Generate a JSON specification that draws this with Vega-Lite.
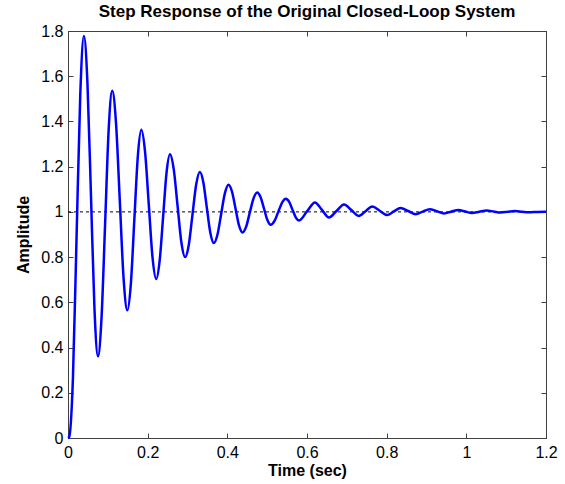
{
  "$schema": "https://vega.github.io/schema/vega-lite/v6.json",
  "autosize": {"type": "none"},
  "width": 478,
  "height": 407,
  "padding": {"left": 68, "top": 31, "right": 19, "bottom": 46},
  "background": "white",
  "title": {"text": "Step Response of the Original Closed-Loop System", "font": "Liberation Sans", "fontSize": 17, "fontWeight": "bold", "color": "black", "anchor": "middle", "offset": 2},
  "config": {
    "view": {"stroke": "#404040", "strokeWidth": 1},
    "axis": {"grid": false, "domainColor": "#404040", "tickColor": "#404040", "labelColor": "black", "titleColor": "black", "labelFont": "Liberation Sans", "labelFontSize": 16, "titleFont": "Liberation Sans", "titleFontSize": 16, "titleFontWeight": "bold", "tickSize": -5, "labelFlush": false, "labelOverlap": false}
  },
  "datasets": {
    "resp": [
      {"t": 0, "y": 0}, {"t": 0.003, "y": 0.005}, {"t": 0.0123, "y": 0.26}, {"t": 0.0215, "y": 0.889}, {"t": 0.0308, "y": 1.518},
      {"t": 0.04, "y": 1.778}, {"t": 0.0488, "y": 1.571}, {"t": 0.0577, "y": 1.07}, {"t": 0.0665, "y": 0.569},
      {"t": 0.0753, "y": 0.361}, {"t": 0.0842, "y": 0.533}, {"t": 0.0932, "y": 0.949}, {"t": 0.1021, "y": 1.364},
      {"t": 0.111, "y": 1.536}, {"t": 0.1205, "y": 1.394}, {"t": 0.13, "y": 1.051}, {"t": 0.1395, "y": 0.707},
      {"t": 0.149, "y": 0.565}, {"t": 0.1578, "y": 0.682}, {"t": 0.1665, "y": 0.964}, {"t": 0.1753, "y": 1.246},
      {"t": 0.184, "y": 1.363}, {"t": 0.1934, "y": 1.266}, {"t": 0.2028, "y": 1.033}, {"t": 0.2121, "y": 0.8},
      {"t": 0.2215, "y": 0.703}, {"t": 0.2301, "y": 0.784}, {"t": 0.2388, "y": 0.979}, {"t": 0.2474, "y": 1.174},
      {"t": 0.256, "y": 1.255}, {"t": 0.2655, "y": 1.188}, {"t": 0.275, "y": 1.028}, {"t": 0.2845, "y": 0.867},
      {"t": 0.294, "y": 0.8}, {"t": 0.3033, "y": 0.855}, {"t": 0.3125, "y": 0.988}, {"t": 0.3218, "y": 1.121},
      {"t": 0.331, "y": 1.176}, {"t": 0.3398, "y": 1.13}, {"t": 0.3485, "y": 1.019}, {"t": 0.3573, "y": 0.908},
      {"t": 0.366, "y": 0.862}, {"t": 0.3753, "y": 0.9}, {"t": 0.3845, "y": 0.991}, {"t": 0.3938, "y": 1.082},
      {"t": 0.403, "y": 1.12}, {"t": 0.4118, "y": 1.089}, {"t": 0.4205, "y": 1.015}, {"t": 0.4293, "y": 0.94},
      {"t": 0.438, "y": 0.909}, {"t": 0.4473, "y": 0.935}, {"t": 0.4565, "y": 0.998}, {"t": 0.4658, "y": 1.06},
      {"t": 0.475, "y": 1.086}, {"t": 0.4835, "y": 1.065}, {"t": 0.492, "y": 1.015}, {"t": 0.5005, "y": 0.964},
      {"t": 0.509, "y": 0.943}, {"t": 0.5185, "y": 0.96}, {"t": 0.528, "y": 1.001}, {"t": 0.5375, "y": 1.041},
      {"t": 0.547, "y": 1.058}, {"t": 0.5553, "y": 1.044}, {"t": 0.5635, "y": 1.01}, {"t": 0.5718, "y": 0.976},
      {"t": 0.58, "y": 0.962}, {"t": 0.6, "y": 1.002}, {"t": 0.62, "y": 1.042}, {"t": 0.6375, "y": 1.009},
      {"t": 0.655, "y": 0.975}, {"t": 0.674, "y": 1.004}, {"t": 0.693, "y": 1.033}, {"t": 0.7115, "y": 1.008},
      {"t": 0.73, "y": 0.982}, {"t": 0.747, "y": 1.003}, {"t": 0.764, "y": 1.024}, {"t": 0.7825, "y": 1.005},
      {"t": 0.801, "y": 0.986}, {"t": 0.818, "y": 1.002}, {"t": 0.835, "y": 1.017}, {"t": 0.854, "y": 1.004},
      {"t": 0.873, "y": 0.99}, {"t": 0.8905, "y": 1.001}, {"t": 0.908, "y": 1.012}, {"t": 0.926, "y": 1.003},
      {"t": 0.944, "y": 0.993}, {"t": 0.962, "y": 1.001}, {"t": 0.98, "y": 1.008}, {"t": 0.997, "y": 1.002},
      {"t": 1.014, "y": 0.995}, {"t": 1.0325, "y": 1.0005}, {"t": 1.051, "y": 1.006}, {"t": 1.0685, "y": 1.0015},
      {"t": 1.086, "y": 0.997}, {"t": 1.104, "y": 1.0005}, {"t": 1.122, "y": 1.004}, {"t": 1.1395, "y": 1.001},
      {"t": 1.157, "y": 0.998}, {"t": 1.178, "y": 1.0}, {"t": 1.2, "y": 1.001}
    ],
    "ref": [{"t0": 0, "t1": 1.2, "y": 1}]
  },
  "layer": [
    {
      "data": {"name": "ref"},
      "mark": {"type": "rule", "color": "black", "strokeWidth": 1, "strokeDash": [3, 3]},
      "encoding": {
        "x": {"field": "t0", "type": "quantitative", "scale": {"domain": [0, 1.2], "nice": false, "zero": false},
              "axis": {"orient": "top", "values": [0, 0.2, 0.4, 0.6, 0.8, 1, 1.2], "labels": false, "title": null}},
        "x2": {"field": "t1"},
        "y": {"field": "y", "type": "quantitative", "scale": {"domain": [0, 1.8], "nice": false, "zero": false},
              "axis": {"orient": "right", "values": [0, 0.2, 0.4, 0.6, 0.8, 1, 1.2, 1.4, 1.6, 1.8], "labels": false, "title": null}}
      }
    },
    {
      "data": {"name": "resp"},
      "mark": {"type": "line", "color": "#0000ff", "strokeWidth": 2.5, "interpolate": "monotone"},
      "encoding": {
        "x": {"field": "t", "type": "quantitative", "scale": {"domain": [0, 1.2], "nice": false, "zero": false},
              "axis": {"orient": "bottom", "values": [0, 0.2, 0.4, 0.6, 0.8, 1, 1.2], "format": "~g", "title": "Time (sec)", "labelPadding": 11, "titlePadding": 2}},
        "y": {"field": "y", "type": "quantitative", "scale": {"domain": [0, 1.8], "nice": false, "zero": false},
              "axis": {"orient": "left", "values": [0, 0.2, 0.4, 0.6, 0.8, 1, 1.2, 1.4, 1.6, 1.8], "format": "~g", "title": "Amplitude", "labelPadding": 10, "titlePadding": 9}}
      }
    }
  ],
  "resolve": {"axis": {"x": "independent", "y": "independent"}}
}
